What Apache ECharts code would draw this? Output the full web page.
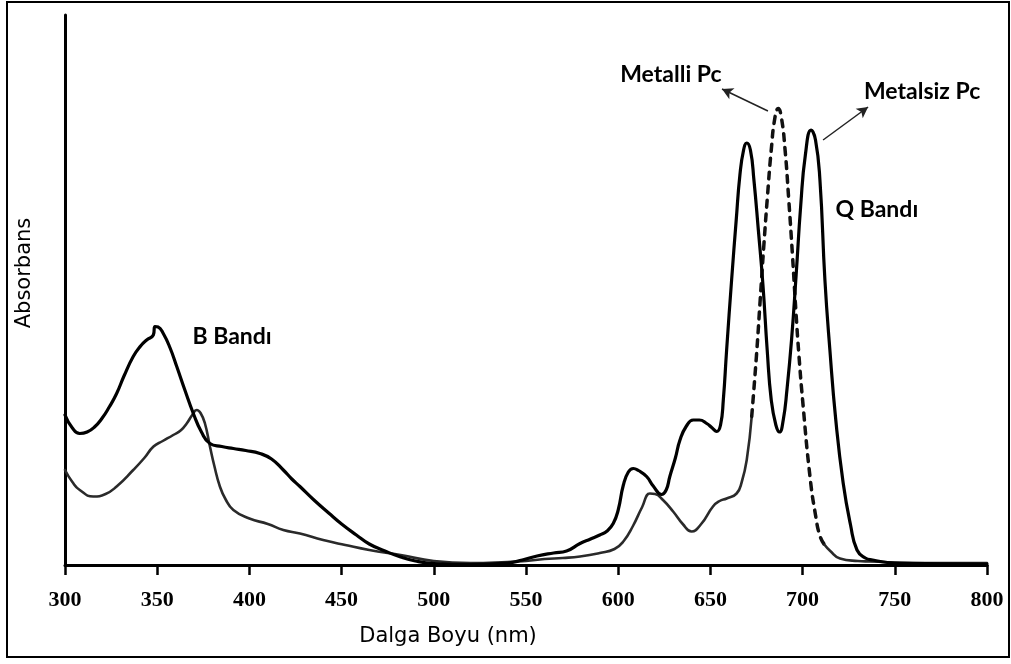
<!DOCTYPE html>
<html>
<head>
<meta charset="utf-8">
<title>Absorbans</title>
<script src="https://cdn.jsdelivr.net/npm/echarts@6/dist/echarts.min.js"></script>
<style>
    html, body { margin: 0; padding: 0; background: #fff; }
    #chart { width: 1011px; height: 664px; }
</style>
</head>
<body>
<div id="chart"></div>
<script>
// Metalsiz Pc (thick solid curve)
var metalsizNm = [300, 304, 308, 312, 316, 320, 324, 328, 332, 337, 341, 344.3, 347.9, 348.8, 350.5, 353.3, 357,
    360.6, 365, 369.6, 374, 378.6, 385, 391.3, 398, 405.7, 412, 418.4, 423, 427.4, 435, 443, 450, 458, 465,
    473.5, 482, 490, 500, 520, 540, 548, 556, 565, 572, 579.3, 585, 590, 594, 597.3, 600, 602.8, 605.5, 608.2,
    611, 615.4, 619, 623.5, 626, 628, 631, 633.5, 637, 640.7, 644, 648, 651, 653.4, 655.5, 657, 658.8, 661.5,
    664, 666, 668, 669.7, 671.7, 673.6, 676, 678.5, 680.8, 683, 685.5, 687.5, 689.5, 691.5, 694, 696.5, 699,
    701.5, 704.6, 707, 709.4, 712.1, 714.8, 718, 722, 726, 729.5, 734, 738, 750, 800];
var metalsizAbs = [0.300, 0.274, 0.263, 0.266, 0.276, 0.293, 0.316, 0.343, 0.378, 0.417, 0.438, 0.450, 0.460,
    0.477, 0.476, 0.463, 0.434, 0.397, 0.350, 0.303, 0.266, 0.243, 0.237, 0.233, 0.229, 0.223, 0.212, 0.190,
    0.172, 0.157, 0.130, 0.104, 0.082, 0.060, 0.042, 0.028, 0.016, 0.008, 0.003, 0.001, 0.004, 0.010, 0.018,
    0.024, 0.028, 0.043, 0.052, 0.060, 0.068, 0.083, 0.110, 0.160, 0.186, 0.193, 0.189, 0.177, 0.158, 0.141,
    0.150, 0.177, 0.214, 0.250, 0.278, 0.290, 0.290, 0.283, 0.274, 0.267, 0.280, 0.330, 0.430, 0.570, 0.690,
    0.780, 0.830, 0.844, 0.830, 0.770, 0.670, 0.560, 0.430, 0.330, 0.280, 0.266, 0.290, 0.350, 0.450, 0.580,
    0.720, 0.820, 0.870, 0.850, 0.770, 0.570, 0.430, 0.290, 0.164, 0.080, 0.030, 0.014, 0.010, 0.004, 0.002];

// Metalli Pc: solid part up to the Q band, dashed Q band peak, solid tail
var metalliNm = [300, 304, 308, 315.3, 322, 328, 337, 343, 348, 353, 358.7, 363, 366, 369, 371.4, 373.5,
    375.9, 378.6, 381, 384, 387, 391.3, 400, 410, 418.4, 427.4, 440, 452, 465, 482, 500, 520, 540, 550, 560,
    570, 579.3, 590, 598, 603, 608, 613, 617.2, 620, 624.3, 630, 635, 639.8, 645, 651.4, 655, 658.8, 664.2,
    667, 669.7, 672.4];
var metalliAbs = [0.190, 0.166, 0.150, 0.137, 0.142, 0.157, 0.190, 0.214, 0.237, 0.248, 0.260, 0.270, 0.283,
    0.300, 0.310, 0.304, 0.283, 0.237, 0.198, 0.157, 0.132, 0.110, 0.093, 0.082, 0.070, 0.063, 0.050, 0.040,
    0.030, 0.020, 0.008, 0.004, 0.006, 0.008, 0.012, 0.014, 0.017, 0.024, 0.032, 0.048, 0.078, 0.116, 0.143,
    0.142, 0.130, 0.106, 0.082, 0.067, 0.082, 0.117, 0.128, 0.133, 0.143, 0.166, 0.210, 0.297];
var metalliPeakNm = [672.4, 675, 677, 679, 681, 683, 685, 686.8, 688.5, 690.5, 692.5, 694.5, 696.5, 698, 700,
    704, 707, 709.5, 712];
var metalliPeakAbs = [0.297, 0.420, 0.530, 0.640, 0.740, 0.830, 0.895, 0.913, 0.895, 0.830, 0.730, 0.620,
    0.500, 0.420, 0.330, 0.177, 0.100, 0.057, 0.040];
var metalliTailNm = [712, 715, 720.3, 730, 736.5, 760, 800];
var metalliTailAbs = [0.040, 0.028, 0.013, 0.008, 0.007, 0.004, 0.004];

// Annotations (data coordinates)
var labelTexts = ["B Bandı", "Q Bandı", "Metalsiz Pc", "Metalli Pc"];
var labelNm = [390.6, 740.3, 764.8, 628.6];
var labelAbs = [0.456, 0.71, 0.946, 0.98];
var arrowFrom = [[681.2, 0.908], [711.1, 0.85]];
var arrowTo = [[656.3, 0.952], [735.5, 0.916]];

/**
 * Pairs two arrays into [x, y] points.
 *
 * @param {number[]} xs
 * @param {number[]} ys
 * @return {Array} points
 */
function zip(xs, ys) {
    return xs.map(function (x, i) { return [x, ys[i]]; });
}

var chart = echarts.init(document.getElementById("chart"), null, { renderer: "canvas" });

var curve = function (name, data, color, width, type, z) {
    return {
        name: name,
        type: "line",
        data: data,
        showSymbol: false,
        smooth: 0.5,
        z: z,
        lineStyle: { color: color, width: width, type: type, cap: "round", join: "round" },
    };
};

var metalsiz = curve("Metalsiz Pc", zip(metalsizNm, metalsizAbs), "#000", 3.2, "solid", 4);
metalsiz.markLine = {
    silent: true,
    symbol: ["none", "arrow"],
    symbolSize: [9, 11],
    label: { show: false },
    lineStyle: { color: "#222", width: 1.5, type: "solid" },
    data: arrowFrom.map(function (p, i) {
        return [{ coord: p }, { coord: arrowTo[i] }];
    }),
};

var options = {
    animation: false,
    backgroundColor: "#fff",
    grid: { left: 65, right: 24, top: 15, bottom: 99 },
    xAxis: {
        type: "value",
        min: 300,
        max: 800,
        interval: 50,
        name: "Dalga Boyu (nm)",
        nameLocation: "middle",
        nameGap: 61,
        nameTextStyle: {
            fontFamily: "DejaVu Sans",
            fontSize: 21,
            color: "#000",
            padding: [0, 156, 0, 0],
        },
        axisLine: { onZero: false, lineStyle: { color: "#000", width: 3 } },
        axisTick: { length: 10, lineStyle: { color: "#000", width: 2.5 } },
        axisLabel: {
            fontFamily: "Liberation Serif",
            fontWeight: "bold",
            fontSize: 22,
            color: "#000",
            margin: 24,
        },
        splitLine: { show: false },
    },
    yAxis: {
        type: "value",
        min: 0,
        max: 1.1,
        name: "Absorbans",
        nameLocation: "middle",
        nameGap: 30,
        nameTextStyle: {
            fontFamily: "DejaVu Sans",
            fontSize: 21,
            color: "#000",
            padding: [0, 0, 0, 34],
        },
        axisLine: { show: true, lineStyle: { color: "#000", width: 3 } },
        axisTick: { show: false },
        axisLabel: { show: false },
        splitLine: { show: false },
    },
    series: [
        metalsiz,
        curve("Metalli Pc", zip(metalliNm, metalliAbs), "#2a2a2a", 2.6, "solid", 3),
        curve("Metalli Pc", zip(metalliPeakNm, metalliPeakAbs), "#111", 3.5, [7, 7], 3),
        curve("Metalli Pc", zip(metalliTailNm, metalliTailAbs), "#2a2a2a", 2.6, "solid", 3),
    ],
};

chart.setOption(options);

// Text labels and outer frame, placed through the grid's scales
var graphics = labelTexts.map(function (t, i) {
    var p = chart.convertToPixel({ gridIndex: 0 }, [labelNm[i], labelAbs[i]]);
    return {
        type: "text",
        x: p[0],
        y: p[1],
        style: {
            text: t,
            fontFamily: "Lato",
            fontWeight: "bold",
            fontSize: 23,
            fill: "#000",
            align: "center",
            verticalAlign: "middle",
        },
    };
});
graphics.push({
    type: "rect",
    shape: { x: 7, y: 2, width: 1002, height: 655 },
    style: { fill: "none", stroke: "#000", lineWidth: 2 },
});
chart.setOption({ graphic: graphics });
</script>
</body>
</html>
